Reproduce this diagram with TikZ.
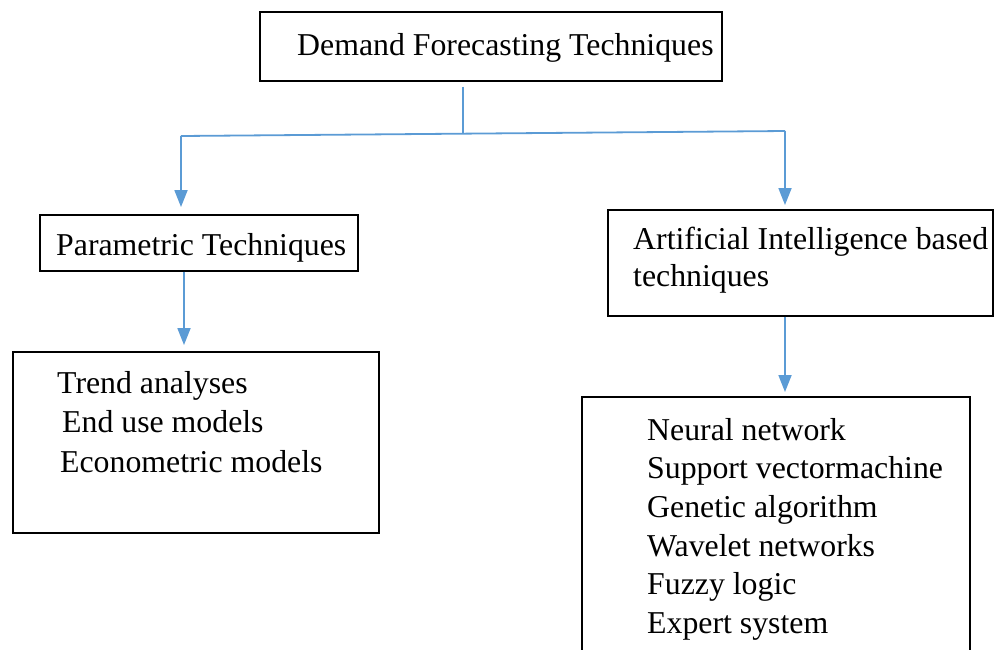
\documentclass[tikz,border=0pt]{standalone}
\usepackage{fontspec}
\setmainfont{Liberation Serif}
\usetikzlibrary{arrows.meta}
\definecolor{linkblue}{RGB}{91,155,213}
\tikzset{
  box/.style={draw=black, line width=1.6pt, rectangle, inner sep=0pt, anchor=north west},
  label/.style={anchor=base west, inner sep=0pt, font=\fontsize{31.8}{38.6}\selectfont},
  link/.style={draw=linkblue, line width=1.8pt},
  linkarrow/.style={link, -{Triangle[length=17pt,width=13pt]}}
}
\begin{document}
\begin{tikzpicture}[x=1pt,y=-1pt]
\useasboundingbox (0,0) rectangle (997,649);
\clip (0,0) rectangle (997,649);

% boxes
\node[box, minimum width=462pt, minimum height=69pt] (top) at (259,11) {};
\node[box, minimum width=318pt, minimum height=56pt] (param) at (39,214) {};
\node[box, minimum width=366pt, minimum height=181pt] (trend) at (12,351) {};
\node[box, minimum width=385pt, minimum height=106pt] (ai) at (607,209) {};
\node[box, minimum width=388pt, minimum height=270pt] (list) at (581,396) {};

% texts
\node[label] (ttop) at (297,55) {Demand Forecasting Techniques};
\node[label] (tparam) at (56,255) {Parametric Techniques};
\node[label] (t1) at (57,393) {Trend analyses};
\node[label] (t2) at (62,432) {End use models};
\node[label] (t3) at (60,472) {Econometric models};
\node[label] (tai1) at (633,249) {Artificial Intelligence based};
\node[label] (tai2) at (633,286) {techniques};
\node[label] (l1) at (647,440) {Neural network};
\node[label] (l2) at (647,478) {Support vectormachine};
\node[label] (l3) at (647,517) {Genetic algorithm};
\node[label] (l4) at (647,556) {Wavelet networks};
\node[label] (l5) at (647,594) {Fuzzy logic};
\node[label] (l6) at (647,633) {Expert system};

% connector points
\coordinate (junction) at (463,133);
\coordinate (hl) at (181,136);
\coordinate (hr) at (785,131);
\coordinate (pa) at (184,0);
\coordinate (aa) at (785,0);

% connectors
\draw[link, shorten <=5pt] (top.south -| junction) -- (junction);
\draw[link] (hl) -- (hr);
\draw[linkarrow, shorten >=7pt] (hl) -- (hl |- param.north);
\draw[linkarrow, shorten >=4pt] (hr) -- (hr |- ai.north);
\draw[linkarrow, shorten >=6pt] (param.south -| pa) -- (trend.north -| pa);
\draw[linkarrow, shorten >=4pt] (ai.south -| aa) -- (list.north -| aa);
\end{tikzpicture}
\end{document}
